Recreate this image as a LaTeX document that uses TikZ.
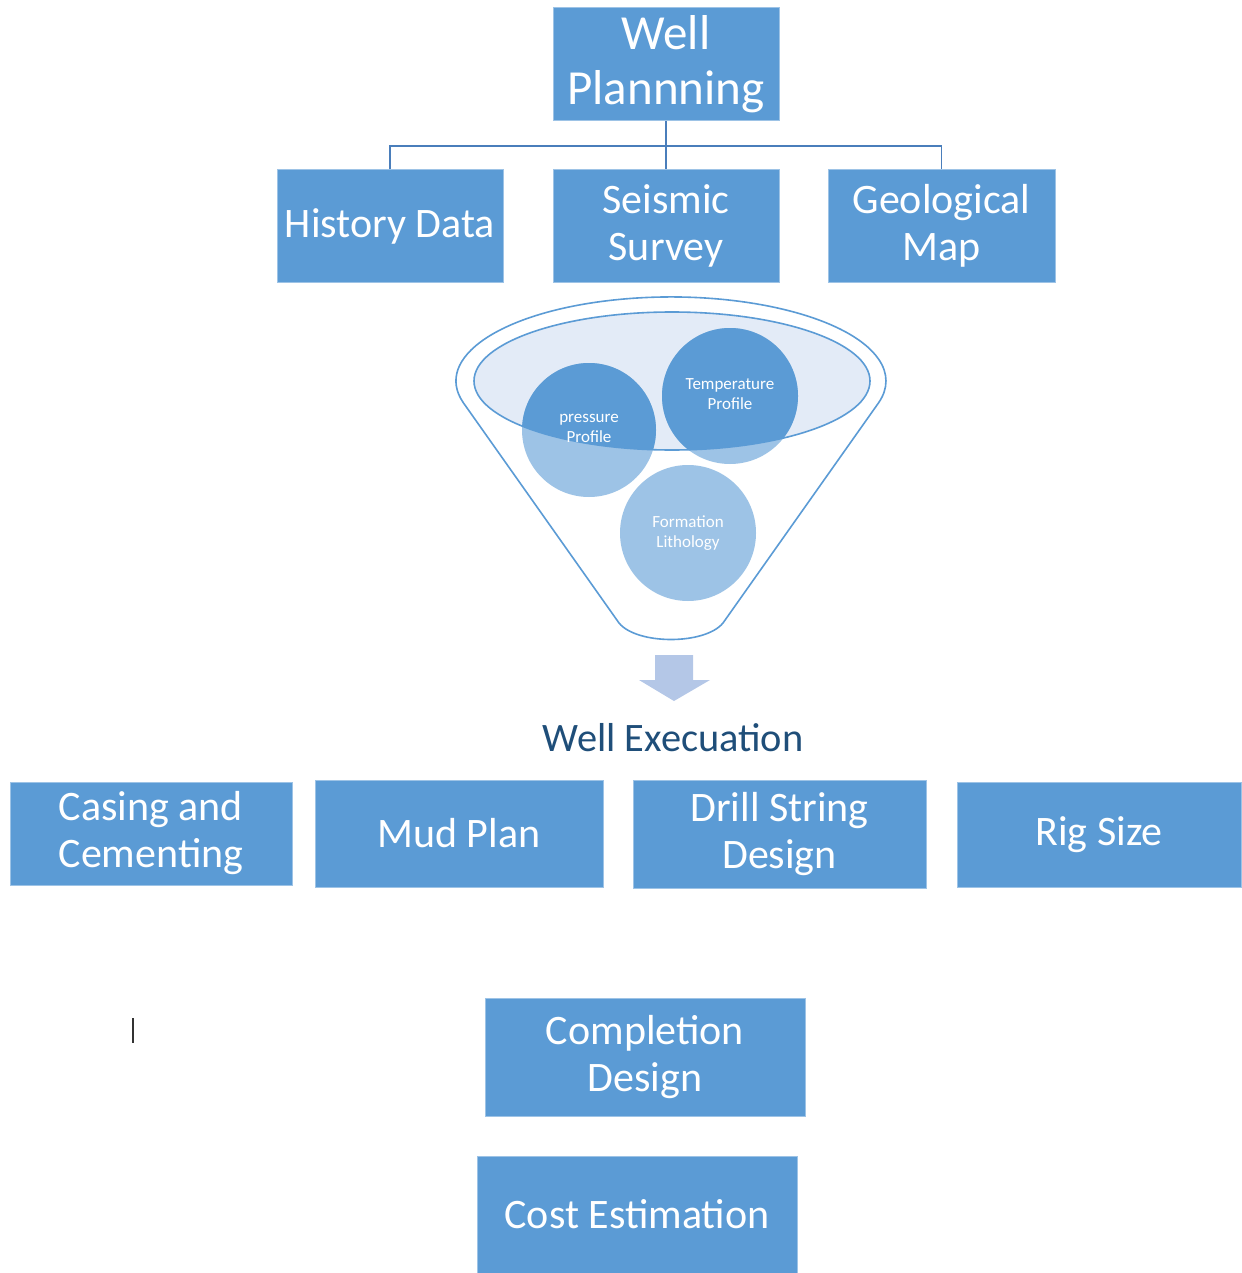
\documentclass[tikz,border=0pt]{standalone}
\usepackage{fontspec}
\setmainfont{Carlito}
\definecolor{boxblue}{HTML}{5B9BD5}
\definecolor{lightblue}{HTML}{9DC3E6}
\definecolor{paleblue}{HTML}{E3EBF7}
\definecolor{arrowblue}{HTML}{B4C7E7}
\definecolor{darktext}{HTML}{1F4E79}
\definecolor{connblue}{HTML}{4A7EBB}
\begin{document}
\begin{tikzpicture}[x=0.5pt,y=0.5pt,
  box/.style={fill=boxblue, draw=boxblue!60!white, line width=0.5pt, text=white, align=center, inner sep=0pt,
              font=\fontsize{21}{23.5}\selectfont},
  conn/.style={draw=connblue, line width=0.8pt},
  funnelline/.style={draw=boxblue, line width=0.8pt},
  ctext/.style={text=white, align=center, inner sep=0pt, font=\fontsize{8.5}{10}\selectfont}]
\useasboundingbox (0,0) rectangle (1241,-1273);

% top level
\node[box, minimum width=113pt, minimum height=56.5pt, font=\fontsize{24.5}{27.5}\selectfont] (wp) at (666,-64.5) {Well\\Plannning};
\node[box, minimum width=113pt, minimum height=56pt] (hd) at (390,-226) {History Data};
\node[box, minimum width=113pt, minimum height=56pt] (ss) at (666,-226) {Seismic\\Survey};
\node[box, minimum width=113.5pt, minimum height=56pt] (gm) at (941.5,-226) {Geological\\Map};

\coordinate (bus) at (666,-146);
\draw[conn] (wp.south) -- (ss.north);
\draw[conn] (hd.north) |- (bus) -| (gm.north);

% funnel
\draw[funnelline, fill=white] (463.3,-402.7) arc[start angle=195, end angle=-15, x radius=107.5pt, y radius=42pt]
  -- (723,-623) .. controls (705,-645) and (637,-645) .. (619,-623) -- cycle;
\fill[paleblue] (672,-381) ellipse[x radius=99pt, y radius=34.5pt];

\fill[lightblue] (589,-430) circle[radius=33.5pt];
\fill[lightblue] (730,-396) circle[radius=34pt];
\fill[lightblue] (688,-533) circle[radius=34pt];
\begin{scope}
  \clip (672,-381) ellipse[x radius=99pt, y radius=34.5pt];
  \fill[boxblue] (589,-430) circle[radius=33.5pt];
  \fill[boxblue] (730,-396) circle[radius=34pt];
\end{scope}
\draw[funnelline] (672,-381) ellipse[x radius=99pt, y radius=34.5pt];

\node[ctext] (pp) at (589,-428) {pressure\\Profile};
\node[ctext] (tp) at (730,-394) {Temperature\\Profile};
\node[ctext] (fl) at (688,-533) {Formation\\Lithology};

% block arrow
\fill[arrowblue] (655,-655) -- (693,-655) -- (693,-680) -- (710,-680) -- (674,-701) -- (639,-680) -- (655,-680) -- cycle;

\node[text=darktext, inner sep=0pt, font=\fontsize{20.2}{22}\selectfont] (we) at (673,-738) {Well Execuation};

% execution boxes
\node[box, minimum width=141pt, minimum height=51.5pt] (cc) at (151,-833.5) {Casing and\\Cementing};
\node[box, minimum width=144pt, minimum height=53.5pt] (mp) at (459,-833.5) {Mud Plan};
\node[box, minimum width=146.5pt, minimum height=54pt] (ds) at (779.5,-834) {Drill String\\Design};
\node[box, minimum width=142pt, minimum height=52.5pt] (rs) at (1099,-834.5) {Rig Size};

\node[box, minimum width=160pt, minimum height=59pt] (cd) at (645,-1057) {Completion\\Design};
\node[box, minimum width=160pt, minimum height=58.5pt] (ce) at (637,-1214.5) {Cost Estimation};

% text cursor
\draw[black!80, line width=0.7pt] (133,-1018) -- (133,-1043);
\end{tikzpicture}
\end{document}
